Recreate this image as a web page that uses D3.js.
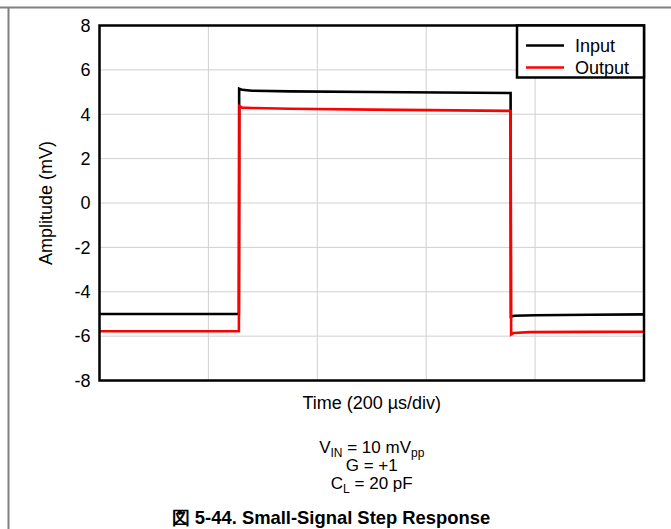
<!DOCTYPE html>
<html>
<head>
<meta charset="utf-8">
<script src="https://cdn.jsdelivr.net/npm/d3@7"></script>
<style>
  body { margin: 0; background: #fff; }
  svg text { font-family: "Liberation Sans", Arial, sans-serif; fill: #000; }
</style>
</head>
<body>
<div id="chart"></div>
<script>
// time in µs (200 µs/div, 5 divisions), amplitude in mV
const inputTime  = [0, 256, 256.5, 262, 280, 350, 500, 755, 755.5, 762, 800, 900, 1000];
const inputValue = [-5.0, -5.0, 5.15, 5.1, 5.06, 5.03, 5.0, 4.96, -5.12, -5.08, -5.06, -5.04, -5.02];
const outputTime  = [0, 256, 257, 262, 280, 350, 500, 755, 756, 760, 790, 900, 1000];
const outputValue = [-5.78, -5.78, 4.37, 4.3, 4.28, 4.25, 4.21, 4.15, -5.92, -5.86, -5.82, -5.81, -5.8];
const yTicks = [8, 6, 4, 2, 0, -2, -4, -6, -8];
const xTicks = [200, 400, 600, 800];
const seriesNames = ["Input", "Output"];
const seriesColors = ["#000000", "#ff0000"];

const W = 671, H = 529;
const plotLeft = 99.5, plotRight = 644, plotTop = 25.5, plotBottom = 380.5;

const svg = d3.select("#chart").append("svg")
  .attr("width", W)
  .attr("height", H);

// page border lines
svg.append("line").attr("x1", 0).attr("x2", W).attr("y1", 7.5).attr("y2", 7.5)
  .attr("stroke", "#808080").attr("stroke-width", 2);
svg.append("line").attr("x1", 8.5).attr("x2", 8.5).attr("y1", 7).attr("y2", H)
  .attr("stroke", "#808080").attr("stroke-width", 2);

const x = d3.scaleLinear().domain([0, 1000]).range([plotLeft, plotRight]);
const y = d3.scaleLinear().domain([-8, 8]).range([plotBottom, plotTop]);

// grid
svg.append("g").selectAll("line").data(xTicks).enter().append("line")
  .attr("x1", d => x(d)).attr("x2", d => x(d))
  .attr("y1", plotTop).attr("y2", plotBottom)
  .attr("stroke", "#d0d0d0").attr("stroke-width", 1);
svg.append("g").selectAll("line").data(yTicks.filter(d => d > -8 && d < 8)).enter().append("line")
  .attr("x1", plotLeft).attr("x2", plotRight)
  .attr("y1", d => y(d)).attr("y2", d => y(d))
  .attr("stroke", "#d0d0d0").attr("stroke-width", 1);

// y axis labels (plain hyphen minus like the original)
const yAxis = d3.axisLeft(y).tickValues(yTicks).tickSize(0).tickPadding(9)
  .tickFormat(d => String(d));
const gy = svg.append("g").attr("transform", `translate(${plotLeft},0)`).call(yAxis);
gy.select(".domain").remove();
gy.selectAll("text").attr("font-size", 18).style("font-family", "'Liberation Sans', Arial, sans-serif");

// series
const line = d3.line().x(d => x(d[0])).y(d => y(d[1]));
const inputData = inputTime.map((t, i) => [t, inputValue[i]]);
const outputData = outputTime.map((t, i) => [t, outputValue[i]]);
svg.append("path").datum(inputData).attr("d", line)
  .attr("fill", "none").attr("stroke", seriesColors[0]).attr("stroke-width", 2.6);
svg.append("path").datum(outputData).attr("d", line)
  .attr("fill", "none").attr("stroke", seriesColors[1]).attr("stroke-width", 2.6);

// frame
svg.append("rect").attr("x", plotLeft).attr("y", plotTop)
  .attr("width", plotRight - plotLeft).attr("height", plotBottom - plotTop)
  .attr("fill", "none").attr("stroke", "#000").attr("stroke-width", 2.5);

// legend
const lg = svg.append("g");
lg.append("rect").attr("x", 517).attr("y", plotTop).attr("width", plotRight - 517).attr("height", 52)
  .attr("fill", "#fff").attr("stroke", "#000").attr("stroke-width", 2.5);
seriesNames.forEach((name, i) => {
  const ly = 45.5 + i * 22;
  lg.append("line").attr("x1", 526).attr("x2", 564).attr("y1", ly).attr("y2", ly)
    .attr("stroke", seriesColors[i]).attr("stroke-width", 2.6);
  lg.append("text").attr("x", 575).attr("y", ly + 6).attr("font-size", 18).text(name);
});

// axis titles
svg.append("text").attr("x", (plotLeft + plotRight) / 2).attr("y", 409)
  .attr("text-anchor", "middle").attr("font-size", 18).text("Time (200 µs/div)");
svg.append("text").attr("transform", `translate(52,${(plotTop + plotBottom) / 2}) rotate(-90)`)
  .attr("text-anchor", "middle").attr("font-size", 18).text("Amplitude (mV)");

// conditions
const cx = (plotLeft + plotRight) / 2;
const t1 = svg.append("text").attr("x", cx).attr("y", 453).attr("text-anchor", "middle").attr("font-size", 17);
t1.append("tspan").text("V");
t1.append("tspan").attr("font-size", 12).attr("dy", 4).text("IN");
t1.append("tspan").attr("dy", -4).text(" = 10 mV");
t1.append("tspan").attr("font-size", 12).attr("dy", 4).text("pp");
svg.append("text").attr("x", cx).attr("y", 471).attr("text-anchor", "middle").attr("font-size", 17).text("G = +1");
const t3 = svg.append("text").attr("x", cx).attr("y", 489).attr("text-anchor", "middle").attr("font-size", 17);
t3.append("tspan").text("C");
t3.append("tspan").attr("font-size", 12).attr("dy", 4).text("L");
t3.append("tspan").attr("dy", -4).text(" = 20 pF");

// caption
svg.append("text").attr("x", 331).attr("y", 524).attr("text-anchor", "middle")
  .attr("font-size", 18.4).attr("font-weight", "bold")
  .text("図 5-44. Small-Signal Step Response");
</script>
</body>
</html>
